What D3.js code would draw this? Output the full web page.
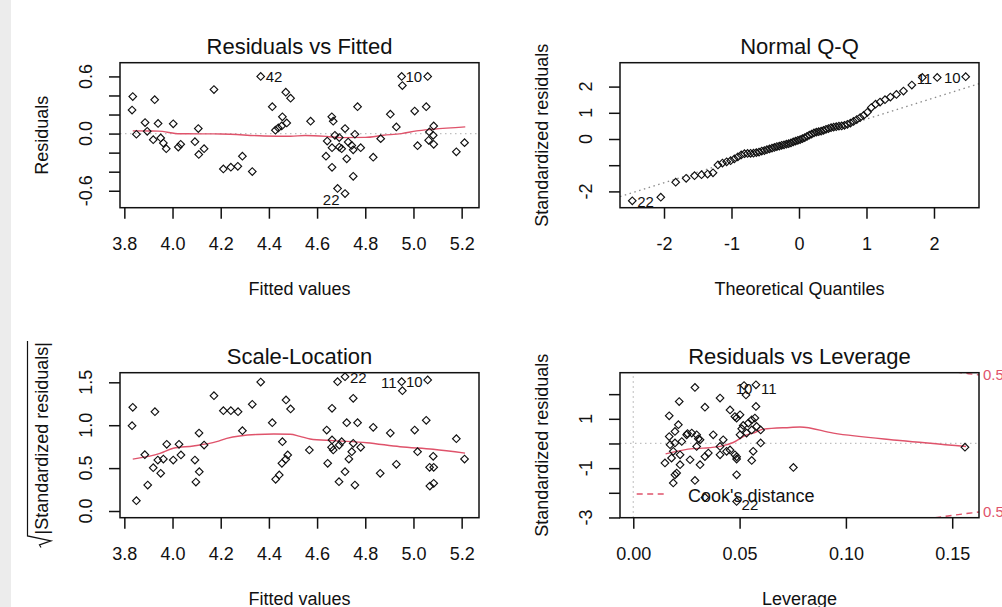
<!DOCTYPE html>
<html><head><meta charset="utf-8">
<script src="https://cdn.jsdelivr.net/npm/d3@7"></script>
<style>
body{margin:0;background:#fff}
svg{display:block}
text{font-family:"Liberation Sans",Arial,sans-serif;fill:#111}
</style>
</head><body>
<svg id="c" width="1002" height="607"></svg>
<script>
// ---------------- DATA ----------------
// Panel 1: Residuals vs Fitted
const rvfFitted = [3.835,3.832,3.850,3.886,3.895,3.926,3.920,3.940,3.951,3.962,3.974,4.003,4.024,4.034,4.093,4.107,4.109,4.131,4.172,4.211,4.242,4.271,4.290,4.331,4.366,4.414,4.470,4.490,4.456,4.427,4.439,4.453,4.474,4.573,4.661,4.667,4.642,4.662,4.637,4.662,4.685,4.716,4.716,4.692,4.702,4.723,4.729,4.744,4.750,4.757,4.781,4.750,4.768,4.833,4.864,4.904,4.929,4.951,4.954,5.059,5.005,5.017,5.053,5.066,5.084,5.082,5.063,5.084,5.178,5.212,4.692,4.674];
const rvfResid  = [0.388,0.247,-0.007,0.116,0.024,0.356,-0.064,0.106,-0.046,-0.099,-0.159,0.102,-0.142,-0.113,-0.085,0.053,-0.219,-0.159,0.462,-0.371,-0.353,-0.343,-0.237,-0.399,0.600,0.282,0.434,0.371,0.176,0.035,0.059,0.080,0.112,0.130,0.176,0.130,-0.078,-0.148,-0.237,-0.354,-0.576,-0.629,0.053,-0.042,-0.159,-0.265,-0.089,-0.124,-0.170,-0.007,-0.148,-0.449,0.282,-0.248,-0.053,0.204,0.070,0.600,0.504,0.600,0.236,-0.127,0.282,0.017,0.080,-0.018,-0.071,-0.113,-0.191,-0.095,-0.142,-0.018];
const rvfSmoothX = [3.835,3.94,4.03,4.20,4.38,4.49,4.55,4.64,4.70,4.80,4.875,4.95,5.013,5.082,5.215];
const rvfSmoothY = [0.028,0.026,-0.002,-0.004,-0.025,-0.028,-0.02,-0.03,-0.042,-0.04,-0.018,0.0,0.028,0.045,0.07];
const rvfXTicks = [3.8,4.0,4.2,4.4,4.6,4.8,5.0,5.2];
const rvfYTicks = [-0.6,-0.4,-0.2,0.0,0.2,0.4,0.6];
const rvfYTickLabels = ["-0.6","0.0","0.6"];
const rvfIdLabels = [["42",4.366,0.600],["10",5.059,0.600],["22",4.716,-0.629]];

// Panel 2: Normal Q-Q
const qqTheo = [-2.470,-2.048,-1.827,-1.672,-1.548,-1.444,-1.354,-1.274,-1.201,-1.134,-1.072,-1.013,-0.958,-0.906,-0.856,-0.808,-0.762,-0.717,-0.674,-0.632,-0.592,-0.552,-0.513,-0.475,-0.437,-0.400,-0.364,-0.328,-0.292,-0.257,-0.222,-0.187,-0.153,-0.119,-0.085,-0.051,-0.017,
  0.017,0.051,0.085,0.119,0.153,0.187,0.222,0.257,0.292,0.328,0.364,0.400,0.437,0.475,0.513,0.552,0.592,0.632,0.674,0.717,0.762,0.808,0.856,0.906,0.958,1.013,1.072,1.134,1.201,1.274,1.354,1.444,1.548,1.672,1.827,2.048,2.470];
const qqStd = [-2.36,-2.22,-1.65,-1.50,-1.40,-1.36,-1.34,-1.29,-0.99,-0.92,-0.87,-0.83,-0.76,-0.68,-0.61,-0.56,-0.55,-0.545,-0.54,-0.52,-0.50,-0.46,-0.44,-0.41,-0.38,-0.35,-0.32,-0.29,-0.27,-0.24,-0.22,-0.20,-0.18,-0.15,-0.11,-0.08,-0.05,
  -0.02,0.01,0.05,0.10,0.15,0.19,0.23,0.26,0.28,0.30,0.33,0.37,0.40,0.43,0.45,0.47,0.49,0.50,0.52,0.56,0.61,0.67,0.74,0.82,0.90,1.02,1.20,1.33,1.41,1.50,1.60,1.70,1.83,2.06,2.35,2.35,2.38];
const qqLineIntercept = -0.05;
const qqLineSlope = 0.81;
const qqXTicks = [-2,-1,0,1,2];
const qqYTicks = [-2,-1,0,1,2];
const qqYTickLabels = ["-2","0","1","2"];
const qqIdLabels = [["22",-2.470,-2.36,"start"],["11",2.048,2.35,"end"],["10",2.470,2.38,"end"]];

// Panel 3: Scale-Location
const slFitted = [3.835,3.832,3.850,3.885,3.897,3.927,3.920,3.939,3.951,3.962,3.976,4.003,4.027,4.035,4.093,4.110,4.111,4.097,4.131,4.172,4.211,4.242,4.272,4.290,4.331,4.366,4.414,4.456,4.471,4.490,4.428,4.443,4.454,4.470,4.478,4.568,4.662,4.640,4.662,4.660,4.667,4.644,4.685,4.716,4.750,4.723,4.768,4.692,4.702,4.750,4.781,4.744,4.732,4.716,4.691,4.757,4.833,4.862,4.904,4.929,4.951,4.954,5.059,5.005,5.017,5.053,5.082,5.067,5.084,5.068,5.084,5.178,5.212];
const slSqrtStd = [1.209,0.994,0.120,0.656,0.303,1.158,0.505,0.594,0.439,0.606,0.777,0.594,0.777,0.653,0.594,0.909,0.458,0.338,0.769,1.344,1.169,1.169,1.158,0.936,1.243,1.503,1.030,0.808,1.294,1.189,0.369,0.420,0.556,0.603,0.653,0.711,1.197,0.944,0.828,0.742,0.711,0.556,1.507,1.565,1.313,1.030,1.030,0.769,0.808,0.789,0.742,0.691,0.606,0.458,0.342,0.303,0.975,0.439,0.909,0.544,1.507,1.402,1.527,0.944,0.691,1.057,0.637,0.509,0.509,0.291,0.323,0.843,0.606];
const slSmoothX = [3.835,3.948,4.003,4.086,4.183,4.225,4.349,4.42,4.488,4.529,4.571,4.667,4.806,4.944,5.082,5.214];
const slSmoothY = [0.605,0.672,0.731,0.758,0.808,0.847,0.892,0.897,0.895,0.870,0.840,0.820,0.796,0.749,0.719,0.675];
const slYTicks = [0.0,0.5,1.0,1.5];
const slYTickLabels = ["0.0","0.5","1.0","1.5"];
const slIdLabels = [["22",4.716,1.565,"start"],["11",4.951,1.507,"end"],["10",5.059,1.527,"end"]];

// Panel 4: Residuals vs Leverage
const rvlLev = [0.0290,0.0216,0.0408,0.0337,0.0455,0.0530,0.0577,0.0521,0.0577,0.0169,0.0478,0.0502,0.0572,0.0557,0.0541,0.0517,0.0580,0.0212,0.0510,0.0196,0.0275,0.0251,0.0298,0.0376,0.0306,0.0423,0.0502,0.0533,0.0557,0.0599,0.0298,0.0173,0.0196,0.0228,0.0408,0.0599,0.0188,0.0180,0.0220,0.0353,0.0337,0.0408,0.0439,0.0455,0.0478,0.0486,0.0486,0.0564,0.0557,0.0149,0.0267,0.0220,0.0314,0.0204,0.0196,0.0188,0.0290,0.0486,0.0753,0.0337,0.0486,0.1560,0.0169,0.0486,0.0255,0.0314];
const rvlStd = [2.27,1.70,1.84,1.47,1.36,1.97,2.38,2.35,1.50,1.12,1.09,1.16,1.03,0.96,0.83,0.73,0.69,0.76,0.60,0.49,0.42,0.35,0.35,0.35,0.19,0.15,0.35,0.42,0.55,0.55,-0.12,-0.05,0.02,0.08,-0.12,0.02,-0.32,-0.59,-0.46,-0.39,-0.53,-0.46,-0.32,-0.26,-0.46,-0.54,-0.63,-0.32,-0.69,-0.79,-0.66,-0.86,-0.86,-1.20,-1.27,-1.60,-1.50,-1.27,-0.97,-2.19,-2.35,-0.15,0.28,1.03,0.40,0.15];
const rvlSmoothX = [0.0152,0.0282,0.0329,0.0408,0.0470,0.0533,0.0564,0.0611,0.0737,0.0784,0.0941,0.1254,0.1565];
const rvlSmoothY = [-0.42,-0.21,-0.19,-0.12,0.04,0.35,0.42,0.58,0.65,0.67,0.42,0.12,-0.12];
const rvlXTicks = [0.00,0.05,0.10,0.15];
const rvlYTicks = [-3,-2,-1,0,1,2];
const rvlYTickLabels = ["-3","-1","1"];
const rvlIdLabels = [["10",0.0521,2.35,"middle"],["11",0.0577,2.38,"start"],["22",0.0486,-2.35,"start"]];
const cookLevels = [0.5];
const nCoef = 3;

// ---------------- DRAWING ----------------
const RED = "#DF536B";
const svg = d3.select("#c");
svg.append("rect").attr("width",1002).attr("height",607).attr("fill","#fff");
svg.append("rect").attr("x",0).attr("y",0).attr("width",11).attr("height",607).attr("fill","#ececec");
const defs = svg.append("defs");
const diamond = d3.symbol().type(d3.symbolSquare).size(29)();

const fmt1 = v => d3.format(".1f")(v).replace("\u2212","-");
const fmt0 = v => String(v).replace("\u2212","-");
const fmt2 = v => d3.format(".2f")(v);

function panel(p){
  const g = svg.append("g");
  const x = d3.scaleLinear().domain(p.xDomain).range([p.left,p.right]);
  const y = d3.scaleLinear().domain(p.yDomain).range([p.bottom,p.top]);
  defs.append("clipPath").attr("id","clip"+p.id).append("rect")
    .attr("x",p.left).attr("y",p.top).attr("width",p.right-p.left).attr("height",p.bottom-p.top);
  const inner = g.append("g").attr("clip-path",`url(#clip${p.id})`);
  if(p.refs) p.refs(inner,x,y);
  if(p.smoothX){
    const pts = p.smoothX.map((v,i)=>[v,p.smoothY[i]]);
    inner.append("path").attr("d",d3.line().x(d=>x(d[0])).y(d=>y(d[1])).curve(d3.curveMonotoneX)(pts))
      .attr("fill","none").attr("stroke",RED).attr("stroke-width",1.4);
  }
  const pts = p.px.map((v,i)=>[v,p.py[i]]);
  g.append("g").selectAll("path").data(pts).join("path")
    .attr("d",diamond)
    .attr("transform",d=>`translate(${x(d[0])},${y(d[1])}) rotate(45)`)
    .attr("fill","none").attr("stroke","#111").attr("stroke-width",1.15);
  (p.ids||[]).forEach(([t,a,b,anc])=>{
    const an = anc||"start";
    const dx = an==="start"?5:(an==="end"?-5:0);
    g.append("text").attr("x",x(a)+dx+(p.idDx||0)).attr("y",y(b)+(p.idDy||0)).attr("dy","0.35em")
      .attr("text-anchor",an).attr("font-size",15).text(t);
  });
  if(p.extra) p.extra(g,x,y);
  g.append("rect").attr("x",p.left).attr("y",p.top).attr("width",p.right-p.left).attr("height",p.bottom-p.top)
    .attr("fill","none").attr("stroke","#111").attr("stroke-width",1.5);
  const xa = g.append("g").attr("transform",`translate(0,${p.bottom})`)
    .call(d3.axisBottom(x).tickValues(p.xTicks).tickSize(11).tickPadding(18.5).tickFormat(p.xFmt));
  xa.select(".domain").remove();
  xa.attr("font-size",18).attr("font-family",null);
  xa.selectAll("line").attr("stroke","#111").attr("stroke-width",1.5);
  xa.selectAll("text").attr("fill","#111");
  const ya = g.append("g").attr("transform",`translate(${p.left},0)`)
    .call(d3.axisLeft(y).tickValues(p.yTicks).tickSize(11).tickFormat(""));
  ya.select(".domain").remove();
  ya.selectAll("line").attr("stroke","#111").attr("stroke-width",1.5);
  p.yLabels.forEach(s=>{
    g.append("text").attr("transform",`translate(${p.left-28},${y(+s)}) rotate(-90)`)
      .attr("text-anchor","middle").attr("font-size",18).text(s);
  });
  const cx = (p.left+p.right)/2, cy=(p.top+p.bottom)/2;
  g.append("text").attr("x",cx).attr("y",p.top-8.7).attr("text-anchor","middle").attr("font-size",22).text(p.title);
  g.append("text").attr("x",cx).attr("y",p.bottom+87.5).attr("text-anchor","middle").attr("font-size",18).text(p.xlab);
  if(p.ylab){
    g.append("text").attr("transform",`translate(${p.left-72},${cy}) rotate(-90)`).attr("text-anchor","middle").attr("font-size",18).text(p.ylab);
  }
  return {g,x,y};
}

function hline(inner,x,y,v,col){
  inner.append("line").attr("x1",x.range()[0]).attr("x2",x.range()[1]).attr("y1",y(v)).attr("y2",y(v))
    .attr("stroke",col).attr("stroke-width",1.3).attr("stroke-dasharray","1.5,3.5");
}

// Panel 1
panel({id:1,left:120,right:479,top:62.7,bottom:207.7,xDomain:[3.782,5.272],yDomain:[-0.778,0.744],
  px:rvfFitted,py:rvfResid,smoothX:rvfSmoothX,smoothY:rvfSmoothY,
  xTicks:rvfXTicks,xFmt:fmt1,yTicks:rvfYTicks,yLabels:rvfYTickLabels,
  title:"Residuals vs Fitted",xlab:"Fitted values",ylab:"Residuals",
  refs:(inner,x,y)=>hline(inner,x,y,0,"#BEBEBE"),
  extra:(g,x,y)=>{
    rvfIdLabels.forEach(([t,a,b])=>{
      const right = t==="42";
      g.append("text").attr("x",x(a)+(right?5:-5.5)).attr("y",y(b)+(t==="22"?6.5:0.5)).attr("dy","0.35em")
        .attr("text-anchor",right?"start":"end").attr("font-size",15).text(t);
    });
  }
});

// Panel 2
panel({id:2,left:620,right:979,top:62.7,bottom:207.7,xDomain:[-2.652,2.667],yDomain:[-2.622,2.912],
  px:qqTheo,py:qqStd,ids:qqIdLabels,idDy:1,
  xTicks:qqXTicks,xFmt:fmt0,yTicks:qqYTicks,yLabels:qqYTickLabels,
  title:"Normal Q-Q",xlab:"Theoretical Quantiles",ylab:"Standardized residuals",
  refs:(inner,x,y)=>{
    const [a,b]=x.domain();
    inner.append("line").attr("x1",x(a)).attr("x2",x(b))
      .attr("y1",y(qqLineIntercept+qqLineSlope*a)).attr("y2",y(qqLineIntercept+qqLineSlope*b))
      .attr("stroke","#8a8a8a").attr("stroke-width",1.3).attr("stroke-dasharray","1.5,3.5");
  }
});

// Panel 3
panel({id:3,left:120,right:479,top:372.7,bottom:517.7,xDomain:[3.782,5.272],yDomain:[-0.078,1.612],
  px:slFitted,py:slSqrtStd,smoothX:slSmoothX,smoothY:slSmoothY,ids:slIdLabels,idDy:1.5,
  xTicks:rvfXTicks,xFmt:fmt1,yTicks:slYTicks,yLabels:slYTickLabels,
  title:"Scale-Location",xlab:"Fitted values",ylab:null
});
(function(){
  const cy = (372.7+517.7)/2;
  const grp = svg.append("g").attr("transform",`translate(48,${cy}) rotate(-90)`);
  const t = grp.append("text").attr("x",7).attr("text-anchor","middle").attr("font-size",18).text("|Standardized residuals|");
  const L = t.node().getComputedTextLength();
  const s = 7 - L/2, e = 7 + L/2;
  grp.append("path").attr("d",`M${s-13},-7 L${s-10.5},-8.5 L${s-6.5},3 L${s-1.5},-20.5 L${e+1},-20.5`)
    .attr("fill","none").attr("stroke","#111").attr("stroke-width",1.2);
})();

// Panel 4
panel({id:4,left:620,right:979,top:372.7,bottom:517.7,xDomain:[-0.00625,0.1626],yDomain:[-3.01,2.87],
  px:rvlLev,py:rvlStd,smoothX:rvlSmoothX,smoothY:rvlSmoothY,ids:rvlIdLabels,idDy:3.5,
  xTicks:rvlXTicks,xFmt:fmt2,yTicks:rvlYTicks,yLabels:rvlYTickLabels,
  title:"Residuals vs Leverage",xlab:"Leverage",ylab:"Standardized residuals",
  refs:(inner,x,y)=>{
    hline(inner,x,y,0,"#BEBEBE");
    inner.append("line").attr("x1",x(0)).attr("x2",x(0)).attr("y1",y.range()[0]).attr("y2",y.range()[1])
      .attr("stroke","#BEBEBE").attr("stroke-width",1.3).attr("stroke-dasharray","1.5,3.5");
    const xmax = x.domain()[1], h0 = 0.0002;
    const hh = d3.range(101).map(i=>h0+i*(xmax-h0)/100);
    cookLevels.forEach(c=>{
      [1,-1].forEach(sg=>{
        const pts = hh.map(h=>[h, sg*Math.sqrt(c*nCoef*(1-h)/h)]);
        inner.append("path").attr("d",d3.line().x(d=>x(d[0])).y(d=>y(d[1]))(pts))
          .attr("fill","none").attr("stroke",RED).attr("stroke-width",1.4).attr("stroke-dasharray","6,4.5");
      });
    });
  },
  extra:(g,x,y)=>{
    const xmax = x.domain()[1];
    cookLevels.forEach(c=>{
      const aty = Math.sqrt(c*nCoef*(1-xmax)/xmax);
      [aty,-aty].forEach(v=>{
        g.append("text").attr("x",x.range()[1]+4).attr("y",y(v)).attr("dy","0.35em")
          .attr("font-size",15).style("fill",RED).text(String(c));
      });
    });
    g.append("line").attr("x1",636.7).attr("x2",666.7).attr("y1",494).attr("y2",494)
      .attr("stroke",RED).attr("stroke-width",1.4).attr("stroke-dasharray","6,4.5");
    g.append("text").attr("x",688).attr("y",502).attr("font-size",18).text("Cook's distance");
  }
});
</script>
</body></html>
